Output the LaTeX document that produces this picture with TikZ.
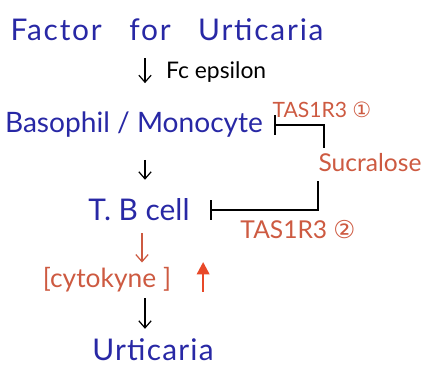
\documentclass[tikz,border=0pt]{standalone}
\usepackage{fontspec}
\setmainfont{Lato}
\newfontfamily\symfont{DejaVu Sans}
\usetikzlibrary{arrows.meta,positioning,calc}
\definecolor{inkblue}{RGB}{40,40,165}
\definecolor{inkred}{RGB}{205,90,65}
\definecolor{brightred}{RGB}{232,72,40}

\begin{document}
\begin{tikzpicture}[x=0.02cm, y=0.02cm,
    term/.style={inner sep=1pt, text=inkblue, font=\fontsize{16}{18}\selectfont},
    agent/.style={inner sep=1pt, text=inkred, font=\fontsize{14}{16}\selectfont},
    arrow/.style={-{Straight Barb[length=4pt,width=7pt]}, line width=0.7pt},
    redarrow/.style={arrow, draw=inkred},
    uparrow/.style={-{Triangle[length=7pt,width=7pt]}, line width=1.4pt, draw=brightred},
    inhib/.style={-{Bar[width=11pt]}, line width=1.1pt}
  ]
  \useasboundingbox (0,0) rectangle (427,374);
  \coordinate (spine) at (145,0);

  % pathway
  \node[term, font=\fontsize{17}{19}\selectfont\addfontfeature{LetterSpace=6}] (factor) at (167,344)
    {Factor\hspace{0.55cm}for\hspace{0.55cm}Urticaria};
  \node[term] (baso) at (134,249) {Basophil / Monocyte};
  \node[term, font=\fontsize{17}{19}\selectfont] (tbcell) at (139,164) {T. B cell};
  \node[agent, font=\fontsize{15}{17}\selectfont] (cyto) at (107,94) {[cytokyne ]};
  \node[term, font=\fontsize{17}{19}\selectfont\addfontfeature{LetterSpace=4}] (urti) at (153,24) {Urticaria};

  % sweetener side
  \node[agent] (sucra) at (370,211) {Sucralose};
  \node[agent, font=\fontsize{12}{14}\selectfont] (tas1) at (322,264) {TAS1R3 {\symfont ①}};
  \node[agent] (tas2) at (298,144) {TAS1R3 {\symfont ②}};
  \node[font=\fontsize{13}{15}\selectfont, anchor=west] (fc) at (160,302) {Fc epsilon};

  \draw[arrow, shorten <=0.3cm, shorten >=0.54cm] (factor.south -| spine) -- (baso.north -| spine);
  \draw[arrow, shorten <=0.4cm, shorten >=0.34cm] (baso.south -| spine) -- (tbcell.north -| spine);
  \draw[redarrow, shorten <=0.2cm, shorten >=0.06cm] (tbcell.south -| 142,0) -- (cyto.north -| 142,0);
  \draw[arrow, shorten <=0.08cm, shorten >=0.16cm] (cyto.south -| spine) -- (urti.north -| spine);
  \draw[uparrow] ($(cyto.east)+(30,-12)$) -- ++(0,30);

  \draw[inhib, shorten >=0.18cm] ($(sucra.north west)+(8,4)$) |- (baso.east);
  \draw[inhib, shorten >=0.36cm] ($(sucra.south west)+(2,-7)$) |- (tbcell.east);
\end{tikzpicture}
\end{document}
